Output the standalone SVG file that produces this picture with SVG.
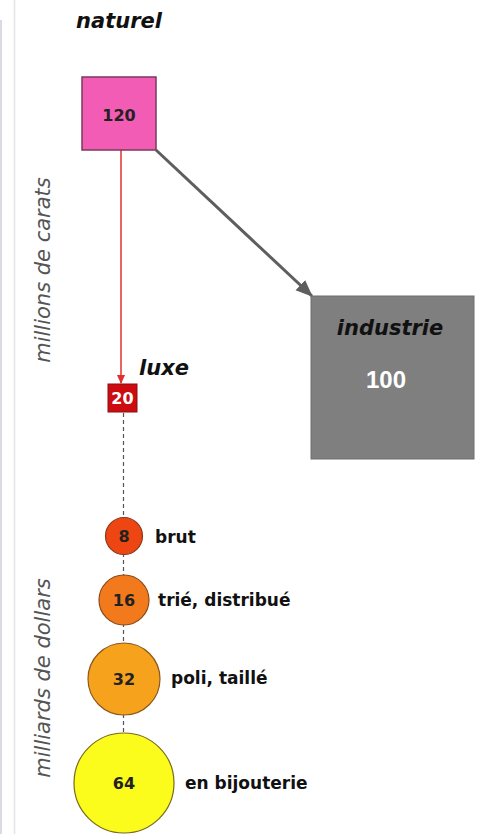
<svg xmlns="http://www.w3.org/2000/svg" width="483" height="834" viewBox="0 0 483 834">
  <style>
    .lbl { font-family: "DejaVu Sans", "Verdana", sans-serif; font-weight: bold; fill: #111; }
    .it { font-style: italic; }
    .axis { font-family: "DejaVu Sans", sans-serif; font-style: italic; font-size: 21px; fill: #555; }
    .num { font-family: "DejaVu Sans", sans-serif; font-weight: bold; font-size: 16px; text-anchor: middle; dominant-baseline: central; fill: #222; }
  </style>
  <defs>
    <marker id="arrRed" markerWidth="10" markerHeight="10" refX="8" refY="5" orient="auto" markerUnits="userSpaceOnUse">
      <path d="M0,1 L9,5 L0,9 Z" fill="#e03030"/>
    </marker>
    <marker id="arrGray" markerWidth="20" markerHeight="16" refX="16" refY="8" orient="auto" markerUnits="userSpaceOnUse">
      <path d="M0,1 L17,8 L0,15 Z" fill="#5e5e5e"/>
    </marker>
  </defs>
  <rect width="483" height="834" fill="#ffffff"/>
  <!-- page edges -->
  <line x1="1" y1="20" x2="1" y2="834" stroke="#d8dbe2" stroke-width="2"/>
  <line x1="14.5" y1="0" x2="14.5" y2="834" stroke="#e4e4e4" stroke-width="1.5"/>

  <!-- axis captions -->
  <text class="axis" transform="translate(50 270) rotate(-90)" text-anchor="middle">millions de carats</text>
  <text class="axis" transform="translate(50 678) rotate(-90)" text-anchor="middle">milliards de dollars</text>

  <g id="connectors">
    <line x1="121" y1="150" x2="121" y2="383" stroke="#e03030" stroke-width="1.5" marker-end="url(#arrRed)"/>
    <line x1="156" y1="150" x2="312" y2="296" stroke="#5e5e5e" stroke-width="3" marker-end="url(#arrGray)"/>
    <line x1="123.5" y1="413" x2="123.5" y2="783" stroke="#555" stroke-width="1.2" stroke-dasharray="4,3"/>
  </g>

  <g id="naturel">
    <text class="lbl it" x="119" y="28" font-size="21" text-anchor="middle">naturel</text>
    <rect x="82" y="77" width="74" height="73" fill="#f25cb4" stroke="#7a3a5c" stroke-width="1.5"/>
    <text class="num" x="119" y="115">120</text>
  </g>

  <g id="industrie">
    <rect x="311" y="296" width="163" height="163" fill="#7f7f7f" stroke="#6e6e6e" stroke-width="1"/>
    <text class="lbl it" x="390" y="335" font-size="21" text-anchor="middle">industrie</text>
    <text x="386" y="388" font-family="'Liberation Sans', Arial, sans-serif" font-weight="bold" font-size="24" fill="#ffffff" text-anchor="middle">100</text>
  </g>

  <g id="luxe">
    <text class="lbl it" x="139" y="375" font-size="21">luxe</text>
    <rect x="108" y="384" width="29" height="28" fill="#cc0c10" stroke="#8a1010" stroke-width="1"/>
    <text class="num" x="122.5" y="398.5" style="fill:#fff">20</text>
  </g>

  <g id="brut">
    <circle cx="124" cy="536" r="18.5" fill="#ee4612" stroke="#8a3a1a" stroke-width="1.2"/>
    <text class="num" x="124" y="536">8</text>
    <text class="lbl" x="155" y="543" font-size="17">brut</text>
  </g>

  <g id="trie">
    <circle cx="124" cy="600" r="25" fill="#f27a1c" stroke="#8a4a1a" stroke-width="1.2"/>
    <text class="num" x="124" y="600">16</text>
    <text class="lbl" x="158" y="606" font-size="17">trié, distribué</text>
  </g>

  <g id="poli">
    <circle cx="124" cy="679" r="36" fill="#f6a21c" stroke="#8a5a1a" stroke-width="1.2"/>
    <text class="num" x="124" y="679">32</text>
    <text class="lbl" x="171" y="684" font-size="17">poli, taillé</text>
  </g>

  <g id="bijouterie">
    <circle cx="124" cy="783" r="50" fill="#fcfc1c" stroke="#7a6a1a" stroke-width="1.2"/>
    <text class="num" x="124" y="783">64</text>
    <text class="lbl" x="185" y="789" font-size="17">en bijouterie</text>
  </g>
</svg>
